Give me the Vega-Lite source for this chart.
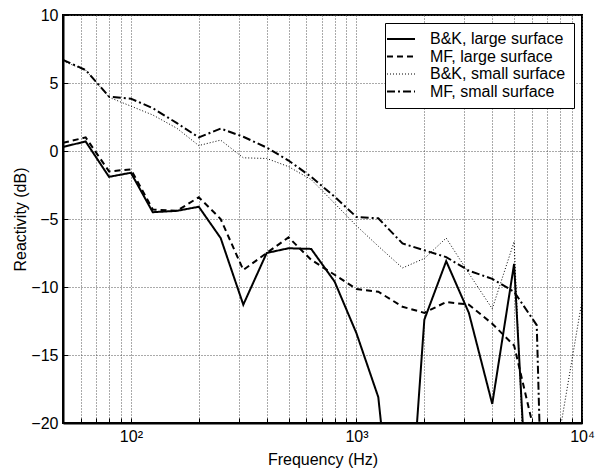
{
  "$schema": "https://vega.github.io/schema/vega-lite/v6.json",
  "width": 519,
  "height": 408,
  "autosize": {"type": "none"},
  "padding": {"left": 63, "top": 15, "right": 17, "bottom": 50},
  "background": "white",
  "config": {"font": "Liberation Sans", "view": {"stroke": "black", "strokeWidth": 2}},
  "data": {
    "values": [
      {"f": 50, "v": 0.3, "s": "B&K, large surface"},
      {"f": 63, "v": 0.7, "s": "B&K, large surface"},
      {"f": 80, "v": -1.9, "s": "B&K, large surface"},
      {"f": 100, "v": -1.6, "s": "B&K, large surface"},
      {"f": 125, "v": -4.5, "s": "B&K, large surface"},
      {"f": 160, "v": -4.4, "s": "B&K, large surface"},
      {"f": 200, "v": -4.1, "s": "B&K, large surface"},
      {"f": 250, "v": -6.4, "s": "B&K, large surface"},
      {"f": 315, "v": -11.3, "s": "B&K, large surface"},
      {"f": 400, "v": -7.5, "s": "B&K, large surface"},
      {"f": 500, "v": -7.15, "s": "B&K, large surface"},
      {"f": 630, "v": -7.2, "s": "B&K, large surface"},
      {"f": 800, "v": -9.6, "s": "B&K, large surface"},
      {"f": 1000, "v": -13.4, "s": "B&K, large surface"},
      {"f": 1250, "v": -18.1, "s": "B&K, large surface"},
      {"f": 1600, "v": -35, "s": "B&K, large surface"},
      {"f": 2000, "v": -12.4, "s": "B&K, large surface"},
      {"f": 2500, "v": -8.1, "s": "B&K, large surface"},
      {"f": 3150, "v": -11.9, "s": "B&K, large surface"},
      {"f": 4000, "v": -18.6, "s": "B&K, large surface"},
      {"f": 5000, "v": -8.3, "s": "B&K, large surface"},
      {"f": 6300, "v": -39, "s": "B&K, large surface"},

      {"f": 50, "v": 0.6, "s": "MF, large surface"},
      {"f": 63, "v": 1.0, "s": "MF, large surface"},
      {"f": 80, "v": -1.5, "s": "MF, large surface"},
      {"f": 100, "v": -1.35, "s": "MF, large surface"},
      {"f": 125, "v": -4.3, "s": "MF, large surface"},
      {"f": 160, "v": -4.4, "s": "MF, large surface"},
      {"f": 200, "v": -3.4, "s": "MF, large surface"},
      {"f": 250, "v": -5.0, "s": "MF, large surface"},
      {"f": 315, "v": -8.75, "s": "MF, large surface"},
      {"f": 400, "v": -7.5, "s": "MF, large surface"},
      {"f": 500, "v": -6.35, "s": "MF, large surface"},
      {"f": 630, "v": -8.0, "s": "MF, large surface"},
      {"f": 800, "v": -9.1, "s": "MF, large surface"},
      {"f": 1000, "v": -10.15, "s": "MF, large surface"},
      {"f": 1250, "v": -10.35, "s": "MF, large surface"},
      {"f": 1600, "v": -11.45, "s": "MF, large surface"},
      {"f": 2000, "v": -11.9, "s": "MF, large surface"},
      {"f": 2500, "v": -11.1, "s": "MF, large surface"},
      {"f": 3150, "v": -11.3, "s": "MF, large surface"},
      {"f": 4000, "v": -12.7, "s": "MF, large surface"},
      {"f": 5000, "v": -14.3, "s": "MF, large surface"},
      {"f": 6300, "v": -21.4, "s": "MF, large surface"},

      {"f": 50, "v": 6.6, "s": "B&K, small surface"},
      {"f": 63, "v": 5.95, "s": "B&K, small surface"},
      {"f": 80, "v": 3.95, "s": "B&K, small surface"},
      {"f": 100, "v": 3.3, "s": "B&K, small surface"},
      {"f": 125, "v": 2.65, "s": "B&K, small surface"},
      {"f": 160, "v": 1.67, "s": "B&K, small surface"},
      {"f": 200, "v": 0.4, "s": "B&K, small surface"},
      {"f": 250, "v": 0.8, "s": "B&K, small surface"},
      {"f": 315, "v": -0.5, "s": "B&K, small surface"},
      {"f": 400, "v": -0.55, "s": "B&K, small surface"},
      {"f": 500, "v": -1.15, "s": "B&K, small surface"},
      {"f": 630, "v": -2.1, "s": "B&K, small surface"},
      {"f": 800, "v": -3.85, "s": "B&K, small surface"},
      {"f": 1000, "v": -5.5, "s": "B&K, small surface"},
      {"f": 1250, "v": -7.0, "s": "B&K, small surface"},
      {"f": 1600, "v": -8.6, "s": "B&K, small surface"},
      {"f": 2000, "v": -7.9, "s": "B&K, small surface"},
      {"f": 2500, "v": -6.4, "s": "B&K, small surface"},
      {"f": 3150, "v": -9.0, "s": "B&K, small surface"},
      {"f": 4000, "v": -11.6, "s": "B&K, small surface"},
      {"f": 5000, "v": -6.67, "s": "B&K, small surface"},
      {"f": 6300, "v": -45, "s": "B&K, small surface"},
      {"f": 8000, "v": -20.5, "s": "B&K, small surface"},
      {"f": 10000, "v": -11, "s": "B&K, small surface"},

      {"f": 50, "v": 6.7, "s": "MF, small surface"},
      {"f": 63, "v": 5.95, "s": "MF, small surface"},
      {"f": 80, "v": 4.0, "s": "MF, small surface"},
      {"f": 100, "v": 3.85, "s": "MF, small surface"},
      {"f": 125, "v": 3.15, "s": "MF, small surface"},
      {"f": 160, "v": 2.05, "s": "MF, small surface"},
      {"f": 200, "v": 1.0, "s": "MF, small surface"},
      {"f": 250, "v": 1.65, "s": "MF, small surface"},
      {"f": 315, "v": 1.05, "s": "MF, small surface"},
      {"f": 400, "v": 0.25, "s": "MF, small surface"},
      {"f": 500, "v": -0.7, "s": "MF, small surface"},
      {"f": 630, "v": -1.9, "s": "MF, small surface"},
      {"f": 800, "v": -3.36, "s": "MF, small surface"},
      {"f": 1000, "v": -4.85, "s": "MF, small surface"},
      {"f": 1250, "v": -4.95, "s": "MF, small surface"},
      {"f": 1600, "v": -6.8, "s": "MF, small surface"},
      {"f": 2000, "v": -7.3, "s": "MF, small surface"},
      {"f": 2500, "v": -7.8, "s": "MF, small surface"},
      {"f": 3150, "v": -8.8, "s": "MF, small surface"},
      {"f": 4000, "v": -9.4, "s": "MF, small surface"},
      {"f": 5000, "v": -10.35, "s": "MF, small surface"},
      {"f": 6300, "v": -12.8, "s": "MF, small surface"},
      {"f": 8000, "v": -75, "s": "MF, small surface"}
    ]
  },
  "mark": {"type": "line", "clip": true, "color": "black"},
  "encoding": {
    "x": {
      "field": "f", "type": "quantitative",
      "scale": {"type": "log", "domain": [50, 10000], "nice": false},
      "axis": {
        "orient": "bottom",
        "values": [50, 60, 70, 80, 90, 100, 200, 300, 400, 500, 600, 700, 800, 900, 1000, 2000, 3000, 4000, 5000, 6000, 7000, 8000, 9000, 10000],
        "labelExpr": "datum.value == 100 ? '10²' : datum.value == 1000 ? '10³' : datum.value == 10000 ? '10⁴' : ''",
        "grid": true, "gridDash": [1, 2], "gridColor": "#555", "gridWidth": 1,
        "tickSize": -5, "tickColor": "black", "tickWidth": 1,
        "domainColor": "black", "domainWidth": 2,
        "labelFontSize": 16, "labelColor": "black", "labelPadding": 10,
        "labelOverlap": false, "labelFlush": false,
        "title": "Frequency (Hz)", "titleFontSize": 16, "titleFontWeight": "normal",
        "titleColor": "black", "titlePadding": 7
      }
    },
    "y": {
      "field": "v", "type": "quantitative",
      "scale": {"domain": [-20, 10], "nice": false, "zero": false},
      "axis": {
        "orient": "left",
        "values": [-20, -15, -10, -5, 0, 5, 10],
        "grid": true, "gridDash": [1, 2], "gridColor": "#555", "gridWidth": 1,
        "tickSize": -5, "tickColor": "black", "tickWidth": 1,
        "domainColor": "black", "domainWidth": 2,
        "labelFontSize": 16, "labelColor": "black", "labelPadding": 10,
        "title": "Reactivity (dB)", "titleFontSize": 16, "titleFontWeight": "normal",
        "titleColor": "black", "titlePadding": 2
      }
    },
    "strokeDash": {
      "field": "s", "type": "nominal",
      "scale": {
        "domain": ["B&K, large surface", "MF, large surface", "B&K, small surface", "MF, small surface"],
        "range": [[1, 0], [6, 4], [1, 2], [8, 3, 2, 3]]
      },
      "legend": {
        "title": null, "orient": "top-right", "offset": 8,
        "strokeColor": "black", "fillColor": "white", "padding": 8,
        "labelFontSize": 16, "labelColor": "black", "labelLimit": 300,
        "symbolType": "M-2,0H2", "symbolSize": 196, "symbolStrokeColor": "black",
        "labelOffset": 21, "rowPadding": 1.5
      }
    },
    "strokeWidth": {
      "field": "s", "type": "nominal",
      "scale": {
        "type": "ordinal",
        "domain": ["B&K, large surface", "MF, large surface", "B&K, small surface", "MF, small surface"],
        "range": [2, 2, 1, 2]
      },
      "legend": {
        "title": null, "orient": "top-right", "offset": 8,
        "strokeColor": "black", "fillColor": "white", "padding": 8,
        "labelFontSize": 16, "labelColor": "black", "labelLimit": 300,
        "symbolType": "M-2,0H2", "symbolSize": 196, "symbolStrokeColor": "black",
        "labelOffset": 21, "rowPadding": 1.5
      }
    }
  }
}
